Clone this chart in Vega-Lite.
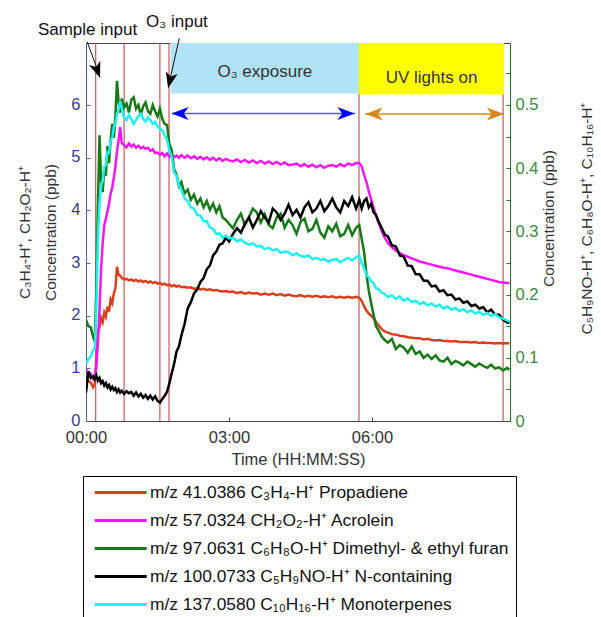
{
  "$schema": "https://vega.github.io/schema/vega-lite/v6.json",
  "width": 424,
  "height": 378,
  "autosize": {"type": "none"},
  "padding": {"left": 86, "top": 43, "right": 91, "bottom": 196},
  "background": "white",
  "config": {
    "font": "Liberation Sans",
    "view": {"stroke": "#444", "strokeWidth": 1},
    "axis": {"grid": false, "labelFont": "Liberation Sans", "titleFont": "Liberation Sans", "titleFontWeight": "normal"}
  },
  "datasets": {
    "series": [
      {"t":0,"a":0.80,"b":0.97,"c":0.160,"d":0.045,"e":0.090},
      {"t":3,"a":0.76,"b":0.93,"c":0.150,"d":0.078,"e":0.098},
      {"t":6,"a":0.73,"b":0.90,"c":0.148,"d":0.068,"e":0.102},
      {"t":9,"a":0.64,"b":0.80,"c":0.133,"d":0.071,"e":0.112},
      {"t":11,"a":0.69,"b":0.86,"c":0.125,"d":0.066,"e":0.115},
      {"t":13,"a":1.20,"b":1.02,"c":0.210,"d":0.072,"e":0.175},
      {"t":15,"a":1.67,"b":1.50,"c":0.340,"d":0.064,"e":0.290},
      {"t":17,"a":1.78,"b":2.10,"c":0.452,"d":0.068,"e":0.345},
      {"t":19,"a":1.96,"b":2.90,"c":0.380,"d":0.060,"e":0.372},
      {"t":21,"a":1.88,"b":3.38,"c":0.362,"d":0.063,"e":0.380},
      {"t":23,"a":2.06,"b":3.72,"c":0.400,"d":0.056,"e":0.402},
      {"t":25,"a":1.98,"b":3.84,"c":0.388,"d":0.060,"e":0.405},
      {"t":27,"a":2.17,"b":3.98,"c":0.435,"d":0.053,"e":0.425},
      {"t":29,"a":2.08,"b":4.12,"c":0.408,"d":0.057,"e":0.424},
      {"t":31,"a":2.31,"b":4.32,"c":0.445,"d":0.050,"e":0.445},
      {"t":33,"a":2.24,"b":4.43,"c":0.470,"d":0.054,"e":0.448},
      {"t":35,"a":2.42,"b":4.62,"c":0.448,"d":0.049,"e":0.465},
      {"t":37,"a":2.52,"b":4.83,"c":0.482,"d":0.052,"e":0.470},
      {"t":39,"a":2.93,"b":5.12,"c":0.538,"d":0.046,"e":0.486},
      {"t":41,"a":2.78,"b":5.33,"c":0.505,"d":0.050,"e":0.492},
      {"t":43,"a":2.76,"b":5.58,"c":0.488,"d":0.045,"e":0.506},
      {"t":45,"a":2.72,"b":5.28,"c":0.510,"d":0.048,"e":0.495},
      {"t":48,"a":2.69,"b":5.24,"c":0.496,"d":0.043,"e":0.480},
      {"t":51,"a":2.70,"b":5.20,"c":0.502,"d":0.047,"e":0.476},
      {"t":54,"a":2.67,"b":5.27,"c":0.488,"d":0.044,"e":0.484},
      {"t":57,"a":2.69,"b":5.21,"c":0.508,"d":0.046,"e":0.478},
      {"t":60,"a":2.66,"b":5.25,"c":0.512,"d":0.040,"e":0.470},
      {"t":63,"a":2.68,"b":5.19,"c":0.494,"d":0.045,"e":0.476},
      {"t":66,"a":2.65,"b":5.23,"c":0.500,"d":0.039,"e":0.482},
      {"t":69,"a":2.67,"b":5.18,"c":0.484,"d":0.043,"e":0.486},
      {"t":72,"a":2.64,"b":5.21,"c":0.498,"d":0.037,"e":0.478},
      {"t":75,"a":2.66,"b":5.17,"c":0.504,"d":0.041,"e":0.474},
      {"t":78,"a":2.63,"b":5.19,"c":0.490,"d":0.035,"e":0.480},
      {"t":81,"a":2.65,"b":5.13,"c":0.486,"d":0.040,"e":0.476},
      {"t":84,"a":2.62,"b":5.16,"c":0.500,"d":0.034,"e":0.470},
      {"t":87,"a":2.64,"b":5.09,"c":0.490,"d":0.039,"e":0.473},
      {"t":90,"a":2.61,"b":5.10,"c":0.482,"d":0.032,"e":0.466},
      {"t":93,"a":2.62,"b":5.06,"c":0.494,"d":0.029,"e":0.462},
      {"t":96,"a":2.59,"b":5.09,"c":0.478,"d":0.035,"e":0.460},
      {"t":99,"a":2.61,"b":5.03,"c":0.470,"d":0.040,"e":0.452},
      {"t":102,"a":2.58,"b":5.08,"c":0.468,"d":0.046,"e":0.445},
      {"t":105,"a":2.59,"b":5.02,"c":0.438,"d":0.060,"e":0.428},
      {"t":108,"a":2.56,"b":5.05,"c":0.428,"d":0.076,"e":0.418},
      {"t":111,"a":2.58,"b":5.01,"c":0.398,"d":0.091,"e":0.393},
      {"t":114,"a":2.55,"b":5.04,"c":0.390,"d":0.110,"e":0.388},
      {"t":117,"a":2.57,"b":5.00,"c":0.372,"d":0.118,"e":0.372},
      {"t":120,"a":2.54,"b":5.05,"c":0.378,"d":0.135,"e":0.366},
      {"t":124,"a":2.55,"b":5.00,"c":0.360,"d":0.153,"e":0.352},
      {"t":128,"a":2.53,"b":5.04,"c":0.366,"d":0.178,"e":0.348},
      {"t":132,"a":2.54,"b":4.99,"c":0.350,"d":0.188,"e":0.338},
      {"t":136,"a":2.51,"b":5.03,"c":0.358,"d":0.202,"e":0.336},
      {"t":140,"a":2.52,"b":4.98,"c":0.344,"d":0.208,"e":0.326},
      {"t":144,"a":2.50,"b":5.02,"c":0.352,"d":0.220,"e":0.325},
      {"t":148,"a":2.51,"b":4.97,"c":0.338,"d":0.226,"e":0.316},
      {"t":152,"a":2.49,"b":5.01,"c":0.348,"d":0.240,"e":0.316},
      {"t":156,"a":2.50,"b":4.96,"c":0.334,"d":0.246,"e":0.306},
      {"t":160,"a":2.48,"b":5.00,"c":0.344,"d":0.262,"e":0.304},
      {"t":164,"a":2.49,"b":4.95,"c":0.330,"d":0.268,"e":0.296},
      {"t":168,"a":2.47,"b":4.99,"c":0.340,"d":0.279,"e":0.297},
      {"t":172,"a":2.46,"b":4.94,"c":0.322,"d":0.281,"e":0.290},
      {"t":176,"a":2.47,"b":4.98,"c":0.318,"d":0.290,"e":0.293},
      {"t":180,"a":2.45,"b":4.95,"c":0.312,"d":0.284,"e":0.289},
      {"t":185,"a":2.46,"b":4.93,"c":0.305,"d":0.296,"e":0.290},
      {"t":190,"a":2.43,"b":4.97,"c":0.318,"d":0.305,"e":0.284},
      {"t":195,"a":2.45,"b":4.92,"c":0.328,"d":0.298,"e":0.287},
      {"t":200,"a":2.42,"b":4.96,"c":0.310,"d":0.312,"e":0.282},
      {"t":205,"a":2.44,"b":4.91,"c":0.322,"d":0.322,"e":0.279},
      {"t":210,"a":2.42,"b":4.95,"c":0.336,"d":0.306,"e":0.281},
      {"t":215,"a":2.43,"b":4.90,"c":0.330,"d":0.318,"e":0.276},
      {"t":220,"a":2.40,"b":4.94,"c":0.314,"d":0.332,"e":0.277},
      {"t":225,"a":2.42,"b":4.89,"c":0.327,"d":0.322,"e":0.272},
      {"t":230,"a":2.40,"b":4.93,"c":0.310,"d":0.314,"e":0.274},
      {"t":235,"a":2.42,"b":4.88,"c":0.305,"d":0.336,"e":0.270},
      {"t":240,"a":2.39,"b":4.92,"c":0.322,"d":0.330,"e":0.272},
      {"t":245,"a":2.41,"b":4.87,"c":0.328,"d":0.318,"e":0.266},
      {"t":250,"a":2.38,"b":4.91,"c":0.306,"d":0.328,"e":0.268},
      {"t":255,"a":2.40,"b":4.86,"c":0.318,"d":0.342,"e":0.267},
      {"t":260,"a":2.38,"b":4.87,"c":0.310,"d":0.326,"e":0.262},
      {"t":265,"a":2.37,"b":4.89,"c":0.296,"d":0.334,"e":0.265},
      {"t":270,"a":2.39,"b":4.84,"c":0.315,"d":0.322,"e":0.261},
      {"t":275,"a":2.36,"b":4.88,"c":0.320,"d":0.338,"e":0.260},
      {"t":280,"a":2.38,"b":4.83,"c":0.300,"d":0.346,"e":0.262},
      {"t":285,"a":2.36,"b":4.87,"c":0.304,"d":0.330,"e":0.256},
      {"t":290,"a":2.38,"b":4.82,"c":0.318,"d":0.336,"e":0.258},
      {"t":295,"a":2.35,"b":4.86,"c":0.298,"d":0.348,"e":0.255},
      {"t":300,"a":2.37,"b":4.81,"c":0.290,"d":0.332,"e":0.256},
      {"t":305,"a":2.35,"b":4.85,"c":0.308,"d":0.340,"e":0.252},
      {"t":310,"a":2.37,"b":4.86,"c":0.300,"d":0.352,"e":0.255},
      {"t":315,"a":2.34,"b":4.83,"c":0.312,"d":0.338,"e":0.256},
      {"t":320,"a":2.36,"b":4.88,"c":0.292,"d":0.330,"e":0.251},
      {"t":325,"a":2.34,"b":4.84,"c":0.296,"d":0.348,"e":0.255},
      {"t":330,"a":2.36,"b":4.89,"c":0.310,"d":0.340,"e":0.258},
      {"t":335,"a":2.34,"b":4.86,"c":0.294,"d":0.354,"e":0.254},
      {"t":340,"a":2.36,"b":4.90,"c":0.306,"d":0.336,"e":0.259},
      {"t":344,"a":2.34,"b":4.90,"c":0.310,"d":0.350,"e":0.262},
      {"t":347,"a":2.28,"b":4.84,"c":0.288,"d":0.336,"e":0.250},
      {"t":350,"a":2.18,"b":4.68,"c":0.268,"d":0.348,"e":0.242},
      {"t":353,"a":2.10,"b":4.54,"c":0.232,"d":0.352,"e":0.231},
      {"t":356,"a":2.04,"b":4.36,"c":0.206,"d":0.338,"e":0.227},
      {"t":359,"a":2.00,"b":4.20,"c":0.186,"d":0.344,"e":0.221},
      {"t":362,"a":1.95,"b":4.05,"c":0.168,"d":0.330,"e":0.218},
      {"t":365,"a":1.88,"b":3.90,"c":0.150,"d":0.326,"e":0.210},
      {"t":368,"a":1.82,"b":3.78,"c":0.144,"d":0.316,"e":0.209},
      {"t":372,"a":1.75,"b":3.62,"c":0.134,"d":0.306,"e":0.203},
      {"t":376,"a":1.70,"b":3.48,"c":0.128,"d":0.295,"e":0.201},
      {"t":380,"a":1.68,"b":3.38,"c":0.124,"d":0.292,"e":0.196},
      {"t":385,"a":1.65,"b":3.30,"c":0.130,"d":0.278,"e":0.199},
      {"t":390,"a":1.64,"b":3.24,"c":0.114,"d":0.276,"e":0.193},
      {"t":395,"a":1.62,"b":3.19,"c":0.120,"d":0.262,"e":0.197},
      {"t":400,"a":1.61,"b":3.15,"c":0.116,"d":0.260,"e":0.190},
      {"t":405,"a":1.59,"b":3.12,"c":0.108,"d":0.246,"e":0.194},
      {"t":410,"a":1.58,"b":3.09,"c":0.118,"d":0.245,"e":0.188},
      {"t":415,"a":1.57,"b":3.06,"c":0.106,"d":0.232,"e":0.190},
      {"t":420,"a":1.57,"b":3.03,"c":0.110,"d":0.232,"e":0.185},
      {"t":425,"a":1.55,"b":3.01,"c":0.100,"d":0.222,"e":0.188},
      {"t":430,"a":1.56,"b":2.99,"c":0.105,"d":0.222,"e":0.183},
      {"t":435,"a":1.54,"b":2.97,"c":0.098,"d":0.213,"e":0.186},
      {"t":440,"a":1.53,"b":2.95,"c":0.104,"d":0.214,"e":0.181},
      {"t":445,"a":1.54,"b":2.93,"c":0.096,"d":0.205,"e":0.184},
      {"t":450,"a":1.52,"b":2.91,"c":0.094,"d":0.207,"e":0.178},
      {"t":455,"a":1.52,"b":2.90,"c":0.100,"d":0.199,"e":0.181},
      {"t":460,"a":1.51,"b":2.88,"c":0.090,"d":0.200,"e":0.176},
      {"t":465,"a":1.52,"b":2.86,"c":0.095,"d":0.192,"e":0.179},
      {"t":470,"a":1.50,"b":2.84,"c":0.092,"d":0.194,"e":0.174},
      {"t":475,"a":1.50,"b":2.82,"c":0.088,"d":0.187,"e":0.177},
      {"t":480,"a":1.50,"b":2.80,"c":0.094,"d":0.189,"e":0.172},
      {"t":485,"a":1.49,"b":2.78,"c":0.090,"d":0.182,"e":0.175},
      {"t":490,"a":1.50,"b":2.76,"c":0.086,"d":0.184,"e":0.170},
      {"t":495,"a":1.48,"b":2.74,"c":0.091,"d":0.178,"e":0.173},
      {"t":500,"a":1.49,"b":2.72,"c":0.087,"d":0.180,"e":0.168},
      {"t":505,"a":1.48,"b":2.70,"c":0.084,"d":0.172,"e":0.171},
      {"t":510,"a":1.48,"b":2.68,"c":0.089,"d":0.176,"e":0.166},
      {"t":515,"a":1.47,"b":2.66,"c":0.083,"d":0.168,"e":0.169},
      {"t":520,"a":1.48,"b":2.64,"c":0.085,"d":0.168,"e":0.164},
      {"t":525,"a":1.47,"b":2.63,"c":0.080,"d":0.160,"e":0.162},
      {"t":530,"a":1.48,"b":2.62,"c":0.084,"d":0.156,"e":0.159},
      {"t":533,"a":1.47,"b":2.62,"c":0.081,"d":0.155,"e":0.157}
    ],
    "vlines": [{"t":12.2,"v":0,"v2":7.18},{"t":48,"v":0,"v2":7.18},{"t":93,"v":0,"v2":7.18},{"t":104.5,"v":0,"v2":7.18},{"t":343.6,"v":0,"v2":7.18},{"t":525,"v":0,"v2":7.18}],
    "bluebox": [{"t":106.6,"t2":343.6,"v":6.22,"v2":7.18}],
    "yellowbox": [{"t":343.6,"t2":526.2,"v":6.2,"v2":7.18}],
    "boxtext": [{"t":225.2,"v":6.63,"label":"O₃ exposure"},{"t":434.9,"v":6.51,"label":"UV lights on"}],
    "toptext": [{"t":1.9,"v":7.42,"label":"Sample input"},{"t":114.5,"v":7.58,"label":"O₃ input"}],
    "blacklines": [{"t":1.6,"v":7.2,"t2":16.4,"v2":6.59},{"t":117.4,"v":7.27,"t2":104.2,"v2":6.39}],
    "headsample": [{"t":14.3,"v":6.66}],
    "heado3": [{"t":105.6,"v":6.47}],
    "blueline": [{"t":108,"v":5.84,"t2":338.6,"v2":5.84}],
    "blueleft": [{"t":118.3,"v":5.84}],
    "blueright": [{"t":327.3,"v":5.84}],
    "orangeline": [{"t":351.2,"v":5.83,"t2":526.2,"v2":5.83}],
    "orangeleft": [{"t":362.5,"v":5.83}],
    "orangeright": [{"t":515.3,"v":5.83}]
  },
  "encoding": {
    "x": {
      "field": "t", "type": "quantitative",
      "scale": {"domain": [0, 533.7], "nice": false, "zero": false},
      "axis": {
        "values": [0, 180, 360],
        "labelExpr": "pad(floor(datum.value/60),2,'0','left') + ':' + pad(datum.value%60,2,'0','left')",
        "labelFlush": false,
        "tickSize": -4, "labelPadding": 12, "labelFontSize": 16.5, "labelColor": "#333",
        "domainColor": "#444", "tickColor": "#444",
        "title": "Time (HH:MM:SS)", "titleFontSize": 16.5, "titleColor": "#333", "titlePadding": 6
      }
    }
  },
  "layer": [
    {
      "encoding": {
        "y": {
          "field": "v", "type": "quantitative",
          "scale": {"domain": [0, 7.18], "nice": false, "zero": false},
          "axis": {
            "orient": "left", "values": [0, 1, 2, 3, 4, 5, 6], "format": "d", "labelFlush": false,
            "labelOffset": -1,
            "tickSize": -4, "labelPadding": 10, "labelFontSize": 16.5, "labelColor": "#3c3c8c",
            "domainColor": "#5a5aa6", "tickColor": "#5a5aa6",
            "title": ["C₃H₄-H⁺, CH₂O₂-H⁺", "Concentration (ppb)"],
            "titleFontSize": 15.5, "titleColor": "#333", "titleLineHeight": 26, "titlePadding": 12
          }
        }
      },
      "layer": [
        {
          "data": {"name": "vlines"},
          "mark": {"type": "rule", "color": "#c25a5a", "strokeWidth": 1.2},
          "encoding": {"y2": {"field": "v2"}}
        },
        {
          "data": {"name": "bluebox"},
          "mark": {"type": "rect", "color": "#b0e3f5"},
          "encoding": {"x2": {"field": "t2"}, "y2": {"field": "v2"}}
        },
        {
          "data": {"name": "yellowbox"},
          "mark": {"type": "rect", "color": "#ffff00"},
          "encoding": {"x2": {"field": "t2"}, "y2": {"field": "v2"}}
        },
        {
          "data": {"name": "boxtext"},
          "mark": {"type": "text", "fontSize": 17, "color": "#333", "align": "center", "baseline": "middle"},
          "encoding": {"text": {"field": "label"}}
        },
        {
          "data": {"name": "toptext"},
          "mark": {"type": "text", "fontSize": 17, "color": "#111", "align": "center", "baseline": "middle"},
          "encoding": {"text": {"field": "label"}}
        },
        {
          "data": {"name": "blacklines"},
          "mark": {"type": "rule", "color": "#111", "strokeWidth": 1},
          "encoding": {"x2": {"field": "t2"}, "y2": {"field": "v2"}}
        },
        {
          "data": {"name": "headsample"},
          "mark": {"type": "point", "shape": "M0,1L-0.75,-1L0,-0.45L0.75,-1Z", "filled": true, "color": "#000", "opacity": 1, "size": 256, "angle": 340, "strokeWidth": 0},
          "encoding": {}
        },
        {
          "data": {"name": "heado3"},
          "mark": {"type": "point", "shape": "M0,1L-0.75,-1L0,-0.45L0.75,-1Z", "filled": true, "color": "#000", "opacity": 1, "size": 256, "angle": 13, "strokeWidth": 0},
          "encoding": {}
        },
        {
          "data": {"name": "blueline"},
          "mark": {"type": "rule", "color": "#6262a8", "strokeWidth": 1.5},
          "encoding": {"x2": {"field": "t2"}, "y2": {"field": "v2"}}
        },
        {
          "data": {"name": "blueleft"},
          "mark": {"type": "point", "shape": "M0,1L-0.75,-1L0,-0.45L0.75,-1Z", "filled": true, "color": "#0000ff", "opacity": 1, "size": 300, "angle": 90, "strokeWidth": 0},
          "encoding": {}
        },
        {
          "data": {"name": "blueright"},
          "mark": {"type": "point", "shape": "M0,1L-0.75,-1L0,-0.45L0.75,-1Z", "filled": true, "color": "#0000ff", "opacity": 1, "size": 300, "angle": 270, "strokeWidth": 0},
          "encoding": {}
        },
        {
          "data": {"name": "orangeline"},
          "mark": {"type": "rule", "color": "#d4881e", "strokeWidth": 1.5},
          "encoding": {"x2": {"field": "t2"}, "y2": {"field": "v2"}}
        },
        {
          "data": {"name": "orangeleft"},
          "mark": {"type": "point", "shape": "M0,1L-0.75,-1L0,-0.45L0.75,-1Z", "filled": true, "color": "#d4881e", "opacity": 1, "size": 300, "angle": 90, "strokeWidth": 0},
          "encoding": {}
        },
        {
          "data": {"name": "orangeright"},
          "mark": {"type": "point", "shape": "M0,1L-0.75,-1L0,-0.45L0.75,-1Z", "filled": true, "color": "#d4881e", "opacity": 1, "size": 300, "angle": 270, "strokeWidth": 0},
          "encoding": {}
        },
        {
          "data": {"name": "series"},
          "transform": [{"fold": ["a", "b"], "as": ["s", "v"]}],
          "mark": {"type": "line", "strokeWidth": 2.5, "clip": true},
          "encoding": {
            "color": {
              "field": "s", "type": "nominal",
              "scale": {"domain": ["a", "b", "c", "d", "e"], "range": ["#d8401c", "#f515f5", "#167a16", "#000000", "#1ef0f0"]},
              "legend": {
                "orient": "none", "legendX": -3, "legendY": 433, "title": null,
                "symbolType": "M-0.6,0L5.9,0", "symbolSize": 256, "symbolStrokeWidth": 3,
                "labelFontSize": 17.4, "labelColor": "#111", "labelOffset": 41, "labelLimit": 0,
                "rowPadding": 10, "padding": 7, "strokeColor": "#000", "fillColor": "#fff", "cornerRadius": 0,
                "labelExpr": "datum.label=='a' ? 'm/z 41.0386 C₃H₄-H⁺ Propadiene' : datum.label=='b' ? 'm/z 57.0324 CH₂O₂-H⁺ Acrolein' : datum.label=='c' ? 'm/z 97.0631 C₆H₈O-H⁺ Dimethyl- & ethyl furan' : datum.label=='d' ? 'm/z 100.0733 C₅H₉NO-H⁺ N-containing' : 'm/z 137.0580 C₁₀H₁₆-H⁺ Monoterpenes'"
              }
            }
          }
        }
      ]
    },
    {
      "data": {"name": "series"},
      "transform": [{"fold": ["c", "d", "e"], "as": ["s", "v"]}],
      "mark": {"type": "line", "strokeWidth": 2.5, "clip": true},
      "encoding": {
        "y": {
          "field": "v", "type": "quantitative",
          "scale": {"domain": [0, 0.598], "nice": false, "zero": false},
          "axis": {
            "orient": "right",
            "values": [0, 0.05, 0.1, 0.15, 0.2, 0.25, 0.3, 0.35, 0.4, 0.45, 0.5, 0.55],
            "labelExpr": "round(datum.value*100)%10==0 ? format(datum.value,'.1~f') : ''",
            "labelFlush": false,
            "tickSize": -4, "labelPadding": 9, "labelFontSize": 16.5, "labelColor": "#3a8a3a",
            "domainColor": "#1a7a1a", "tickColor": "#1a7a1a",
            "title": ["Concentration (ppb)", "C₅H₉NO-H⁺, C₆H₈O-H⁺, C₁₀H₁₆-H⁺"],
            "titleAngle": 270, "titleBaseline": "top", "titleAlign": "center",
            "titleX": 31, "titleY": 175,
            "titleFontSize": 15.5, "titleColor": "#333", "titleLineHeight": 38
          }
        },
        "color": {
          "field": "s", "type": "nominal",
          "scale": {"domain": ["a", "b", "c", "d", "e"], "range": ["#d8401c", "#f515f5", "#167a16", "#000000", "#1ef0f0"]},
          "legend": {
            "orient": "none", "legendX": -3, "legendY": 433, "title": null,
            "symbolType": "M-0.6,0L5.9,0", "symbolSize": 256, "symbolStrokeWidth": 3,
            "labelFontSize": 17.4, "labelColor": "#111", "labelOffset": 41, "labelLimit": 0,
            "rowPadding": 10, "padding": 7, "strokeColor": "#000", "fillColor": "#fff", "cornerRadius": 0,
            "labelExpr": "datum.label=='a' ? 'm/z 41.0386 C₃H₄-H⁺ Propadiene' : datum.label=='b' ? 'm/z 57.0324 CH₂O₂-H⁺ Acrolein' : datum.label=='c' ? 'm/z 97.0631 C₆H₈O-H⁺ Dimethyl- & ethyl furan' : datum.label=='d' ? 'm/z 100.0733 C₅H₉NO-H⁺ N-containing' : 'm/z 137.0580 C₁₀H₁₆-H⁺ Monoterpenes'"
          }
        }
      }
    }
  ],
  "resolve": {"scale": {"y": "independent"}}
}
